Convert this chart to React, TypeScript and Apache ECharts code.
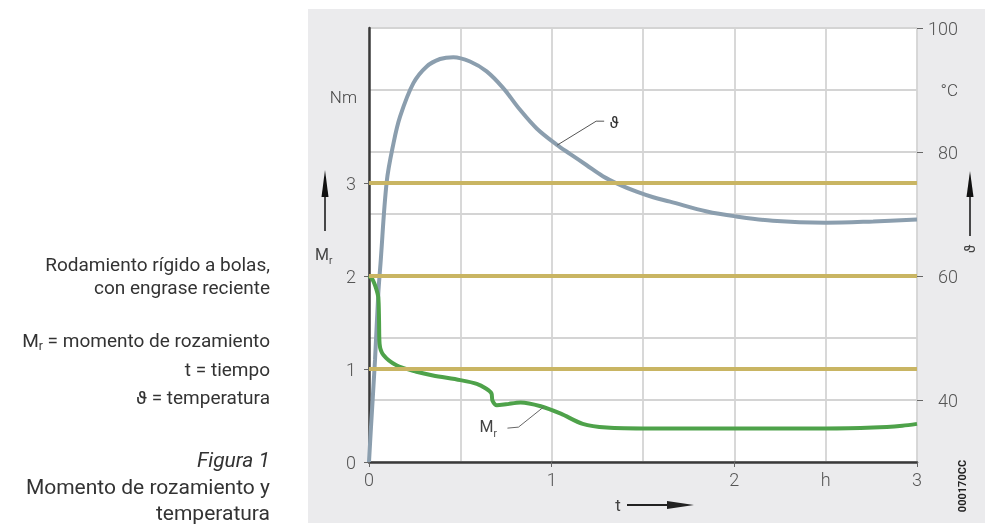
import React, { useEffect, useRef } from "react";
import * as echarts from "echarts";

// Temperature curve (right axis, °C)
const thetaT = [0, 0.011, 0.033, 0.051, 0.063, 0.097, 0.134, 0.17, 0.243, 0.316, 0.389, 0.462, 0.553, 0.644, 0.735, 0.827, 0.918, 1.027, 1.10, 1.19, 1.28, 1.374, 1.465, 1.556, 1.648, 1.85, 2.01, 2.21, 2.5, 2.76, 3.0];
const thetaVal = [30, 35.7, 46.5, 57.2, 62, 75.2, 81.4, 85.7, 91.1, 93.8, 95.0, 95.3, 94.6, 93.0, 90.3, 86.8, 83.8, 81.2, 79.7, 77.9, 76.1, 74.7, 73.6, 72.7, 72.0, 70.4, 69.6, 68.9, 68.6, 68.8, 69.1];

// Friction torque curve (left axis, Nm)
const mrT = [0, 0.02, 0.04, 0.051, 0.055, 0.058, 0.079, 0.15, 0.26, 0.35, 0.5, 0.59, 0.64, 0.67, 0.676, 0.70, 0.75, 0.83, 0.94, 1.05, 1.17, 1.30, 1.54, 2.0, 2.5, 2.76, 2.92, 3.0];
const mrVal = [2.0, 1.96, 1.86, 1.77, 1.52, 1.27, 1.15, 1.04, 0.97, 0.93, 0.88, 0.84, 0.79, 0.74, 0.66, 0.61, 0.62, 0.64, 0.60, 0.52, 0.41, 0.37, 0.36, 0.36, 0.36, 0.37, 0.39, 0.41];

// Reference levels (golden lines) in Nm
const refLevels = [1, 2, 3];

// Tick labels
const xLabelValues = [0, 1, 2, 2.5, 3];
const xTickValues = [0, 1, 2, 3];
const leftTickValues = [0, 1, 2, 3];
const rightTickValues = [40, 60, 80, 100];

const FONT = "Roboto";
const TXT = "#333";

function measure(text: string, font: string): number {
  const c = document.createElement("canvas").getContext("2d");
  if (!c) return text.length * 8;
  c.font = font;
  return c.measureText(text).width;
}

export default function App() {
  const ref = useRef<HTMLDivElement>(null);
  useEffect(() => {
    if (!ref.current) return;
    const chart = echarts.init(ref.current, undefined, { renderer: "svg" });
    const labelStyle = { fontSize: 18, color: "#555", fontFamily: FONT, fontWeight: 300 as any };
    const gridLine = { show: true, lineStyle: { color: "#d4d4d4", width: 1.8 } };
    const option: any = {
      animation: false,
      grid: { left: 369, top: 28, right: 68, bottom: 64, show: true, backgroundColor: "#fff", borderWidth: 0 },
      xAxis: [
        {
          type: "value", min: 0, max: 3, interval: 0.5, position: "bottom",
          axisLine: { show: true, onZero: false, lineStyle: { color: "#3a3a3a", width: 2.5 } },
          axisTick: { show: false },
          axisLabel: { show: false },
          splitLine: gridLine,
        },
        {
          type: "value", min: 0, max: 3, position: "bottom",
          axisLine: { show: false, onZero: false },
          axisTick: { show: true, customValues: xTickValues, length: 5, lineStyle: { color: "#666" } },
          axisLabel: { ...labelStyle, customValues: xLabelValues, margin: 8, formatter: (v: number) => (v === 2.5 ? "h" : String(v)) },
          splitLine: { show: false },
        },
      ],
      yAxis: [
        {
          type: "value", position: "left", min: 0, max: 14 / 3,
          axisLine: { show: true, onZero: false, lineStyle: { color: "#3a3a3a", width: 2.5 } },
          axisTick: { show: true, customValues: leftTickValues, length: 5, lineStyle: { color: "#666" } },
          axisLabel: { ...labelStyle, customValues: leftTickValues, margin: 13 },
          splitLine: { show: false },
        },
        {
          type: "value", position: "right", min: 30, max: 100,
          axisLine: { show: false, onZero: false },
          axisTick: { show: true, customValues: rightTickValues, length: 6, lineStyle: { color: "#666" } },
          axisLabel: { ...labelStyle, customValues: rightTickValues, margin: 41, align: "right" },
          splitLine: { show: false },
        },
        {
          type: "value", position: "right", min: 30, max: 100, interval: 10,
          axisLine: { show: false, onZero: false },
          axisTick: { show: false },
          axisLabel: { show: false },
          splitLine: gridLine,
        },
      ],
      series: [
        {
          name: "ref", type: "line", xAxisIndex: 0, yAxisIndex: 0, data: [], z: 1,
          markLine: {
            silent: true, symbol: ["none", "none"], label: { show: false },
            lineStyle: { color: "#c9b563", width: 4, type: "solid" },
            data: refLevels.map((v) => ({ yAxis: v })),
          },
        },
        {
          name: "Mr", type: "line", xAxisIndex: 0, yAxisIndex: 0, z: 3,
          data: mrT.map((t, i) => [t, mrVal[i]]),
          showSymbol: false, smooth: 0.3,
          lineStyle: { color: "#4ea24a", width: 4 },
        },
        {
          name: "theta", type: "line", xAxisIndex: 0, yAxisIndex: 1, z: 2,
          data: thetaT.map((t, i) => [t, thetaVal[i]]),
          showSymbol: false, smooth: 0.35,
          lineStyle: { color: "#8b9eae", width: 4 },
        },
      ],
    };
    chart.setOption(option);

    const thA = chart.convertToPixel({ xAxisIndex: 0, yAxisIndex: 1 }, [1.03, 81.1]) as number[];
    const mrA = chart.convertToPixel({ xAxisIndex: 0, yAxisIndex: 0 }, [0.955, 0.59]) as number[];

    const txt = (text: string, x: number, y: number, size: number, align: string, extra: any = {}) => ({
      type: "text", x, y, z: 50,
      style: { text, fontSize: size, fontFamily: FONT, fill: TXT, align, verticalAlign: "middle", ...extra },
    });

    const CAP = 19;
    const restMr = " = momento de rozamiento";
    const wRest = measure(restMr, `${CAP}px ${FONT}`);
    const wr = measure("r", `12px ${FONT}`);

    const graphic: any[] = [
      { type: "rect", shape: { x: 308, y: 9, width: 677, height: 514 }, style: { fill: "#ebebed" }, z: -10, silent: true },
      // left caption block
      txt("Rodamiento rígido a bolas,", 270, 264, CAP, "right"),
      txt("con engrase reciente", 270, 287, CAP, "right"),
      txt(restMr, 270, 340, CAP, "right"),
      txt("r", 270 - wRest, 346, 12, "right"),
      txt("M", 270 - wRest - wr, 340, CAP, "right"),
      txt("t = tiempo", 270, 369, CAP, "right"),
      txt("ϑ = temperatura", 270, 397, CAP, "right"),
      txt("Figura 1", 270, 460, 21, "right", { fontStyle: "italic" }),
      txt("Momento de rozamiento y", 270, 487, 21, "right"),
      txt("temperatura", 270, 513, 21, "right"),
      // units
      txt("Nm", 357, 97, 17, "right", { fill: "#444", fontWeight: 300 }),
      txt("°C", 958, 90, 17, "right", { fill: "#444", fontWeight: 300 }),
      // left axis title + arrow
      { type: "line", shape: { x1: 325, y1: 231, x2: 325, y2: 192 }, style: { stroke: "#111", lineWidth: 1.5 }, z: 50 },
      { type: "polygon", shape: { points: [[325, 170], [321.5, 197], [328.5, 197]] }, style: { fill: "#111" }, z: 50 },
      txt("M", 315, 254, 16, "left", { fill: "#444" }),
      txt("r", 329, 260, 10, "left", { fill: "#444" }),
      // right axis title + arrow
      { type: "line", shape: { x1: 970, y1: 236, x2: 970, y2: 192 }, style: { stroke: "#111", lineWidth: 1.5 }, z: 50 },
      { type: "polygon", shape: { points: [[970, 171], [966.5, 197], [973.5, 197]] }, style: { fill: "#111" }, z: 50 },
      { type: "text", x: 970, y: 249, rotation: Math.PI / 2, z: 50, style: { text: "ϑ", fontSize: 15, fontFamily: FONT, fill: "#444", align: "center", verticalAlign: "middle" } },
      // bottom axis title + arrow
      txt("t", 618, 505, 17, "center", { fill: "#444" }),
      { type: "line", shape: { x1: 627, y1: 505, x2: 672, y2: 505 }, style: { stroke: "#222", lineWidth: 1.8 }, z: 50 },
      { type: "polygon", shape: { points: [[667, 501], [694, 505], [667, 509]] }, style: { fill: "#222" }, z: 50 },
      // figure code
      { type: "text", x: 962, y: 486, rotation: Math.PI / 2, z: 50, style: { text: "000170CC", fontSize: 11, fontWeight: "bold", fontFamily: FONT, fill: "#222", align: "center", verticalAlign: "middle" } },
      // theta leader
      { type: "polyline", shape: { points: [[thA[0], thA[1]], [thA[0] + 39, thA[1] - 24], [thA[0] + 47, thA[1] - 24]] }, style: { stroke: "#555", lineWidth: 1, fill: "none" }, z: 50 },
      txt("ϑ", thA[0] + 57, thA[1] - 23, 16, "center", { fill: "#333" }),
      // Mr leader
      { type: "polyline", shape: { points: [[mrA[0], mrA[1]], [mrA[0] - 25, mrA[1] + 20], [mrA[0] - 36, mrA[1] + 21]] }, style: { stroke: "#666", lineWidth: 1, fill: "none" }, z: 50 },
      txt("M", mrA[0] - 50, mrA[1] + 19, 16, "right", { fill: "#444" }),
      txt("r", mrA[0] - 50, mrA[1] + 26, 10, "left", { fill: "#444" }),
    ];
    chart.setOption({ graphic });
    return () => chart.dispose();
  }, []);
  return <div ref={ref} style={{ position: "fixed", left: 0, top: 0, width: 985, height: 526 }} />;
}
